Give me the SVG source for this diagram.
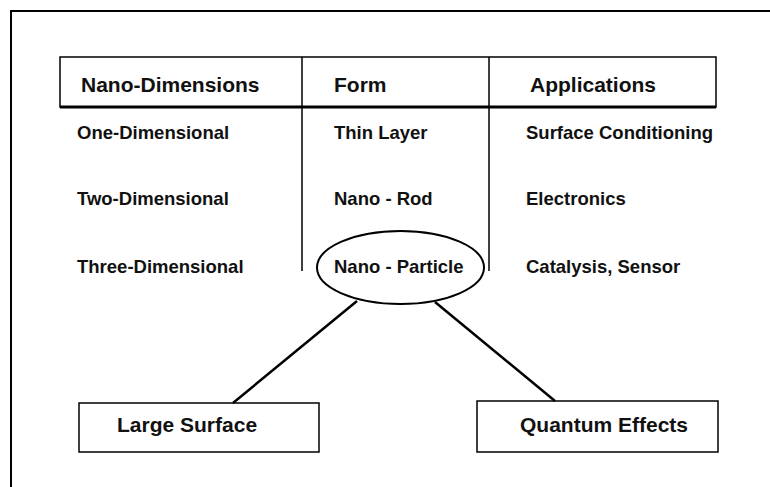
<svg xmlns="http://www.w3.org/2000/svg" width="770" height="487" viewBox="0 0 770 487">
<style>
text{font-family:"Liberation Sans",Arial,sans-serif;font-weight:bold;fill:#111;}
.h{font-size:21px;}
.b{font-size:18.5px;}
.ln{stroke:#000;fill:none;}
</style>
<rect x="0" y="0" width="770" height="487" fill="#fff"/>
<path class="ln" d="M11,490 V11 H775" stroke-width="2"/>
<g id="header">
<rect class="ln" x="60" y="57" width="656" height="50" stroke-width="1.5"/>
<line class="ln" x1="60" y1="107" x2="716" y2="107" stroke-width="3"/>
<text class="h" x="81" y="92">Nano-Dimensions</text>
<text class="h" x="334" y="92">Form</text>
<text class="h" x="530" y="92">Applications</text>
</g>
<g id="dividers">
<line class="ln" x1="302" y1="57" x2="302" y2="271" stroke-width="1.5"/>
<line class="ln" x1="489" y1="57" x2="489" y2="271" stroke-width="1.5"/>
</g>
<g id="col-dimensions">
<text class="b" x="77" y="139">One-Dimensional</text>
<text class="b" x="77" y="205">Two-Dimensional</text>
<text class="b" x="77" y="273">Three-Dimensional</text>
</g>
<g id="col-form">
<text class="b" x="334" y="139">Thin Layer</text>
<text class="b" x="334" y="205">Nano - Rod</text>
</g>
<g id="col-applications">
<text class="b" x="526" y="139">Surface Conditioning</text>
<text class="b" x="526" y="205">Electronics</text>
<text class="b" x="526" y="273">Catalysis, Sensor</text>
</g>
<g id="nano-particle">
<ellipse class="ln" cx="400.5" cy="267.5" rx="83.5" ry="36.5" stroke-width="2"/>
<text class="b" x="334" y="273">Nano - Particle</text>
</g>
<g id="connectors">
<line class="ln" x1="357" y1="301" x2="233" y2="403" stroke-width="2.5"/>
<line class="ln" x1="435" y1="302" x2="555" y2="401" stroke-width="2.5"/>
</g>
<g id="large-surface">
<rect class="ln" x="79" y="403" width="240" height="49" stroke-width="1.5"/>
<text class="h" x="117" y="432">Large Surface</text>
</g>
<g id="quantum-effects">
<rect class="ln" x="477" y="401" width="241" height="51" stroke-width="1.5"/>
<text class="h" x="520" y="432">Quantum Effects</text>
</g>
</svg>
